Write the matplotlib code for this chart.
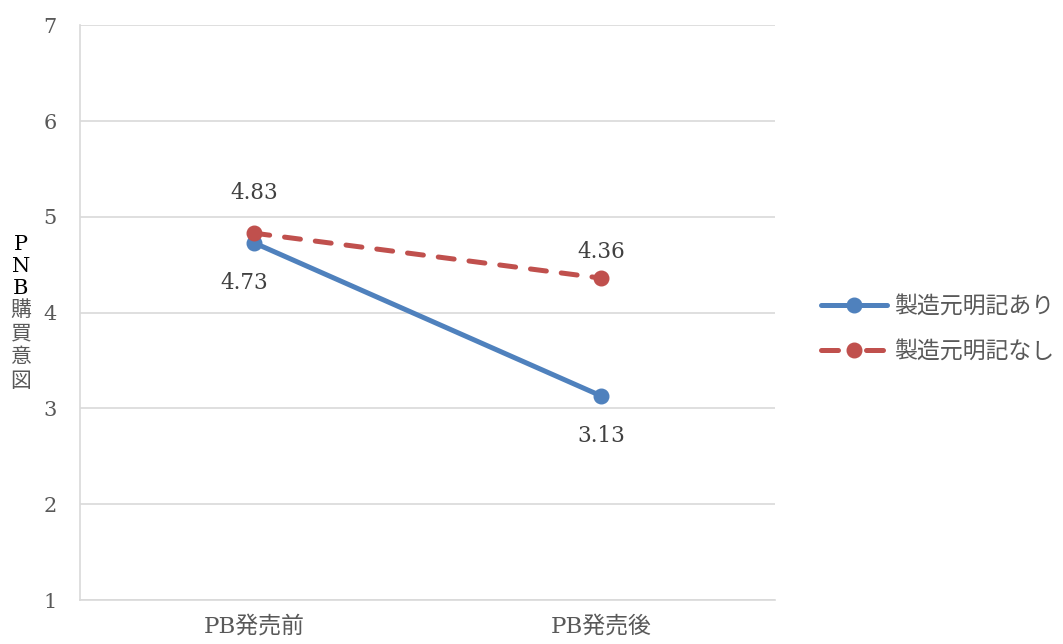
import matplotlib
matplotlib.use("Agg")
import matplotlib.pyplot as plt
from matplotlib.lines import Line2D

# データ
categories = ["PB発売前", "PB発売後"]
series_names = ["製造元明記あり", "製造元明記なし"]
with_maker = [4.73, 3.13]
without_maker = [4.83, 4.36]

BLUE = "#4f81bd"
RED = "#c0504d"
TEXT = "#595959"
GRID = "#d9d9d9"

FONT = ["DejaVu Serif", "Noto Sans CJK JP", "DejaVu Sans"]
plt.rcParams["font.family"] = FONT

fig = plt.figure(figsize=(10.63, 6.44), dpi=100)
ax = fig.add_axes([0.0753, 0.0683, 0.6538, 0.8925])

x = list(range(len(categories)))
ax.plot(x, with_maker, color=BLUE, lw=3.6, marker="o", ms=10.5,
        solid_capstyle="round", zorder=3)
ax.plot(x, without_maker, color=RED, lw=3.6, marker="o", ms=10.5,
        linestyle=(0, (3.2, 3.0)), dash_capstyle="round", zorder=4)

# データラベル
label_off_blue = [(-10, -40), (0, -40)]
label_off_red = [(0, 40), (0, 26)]
for xi, v, off in zip(x, with_maker, label_off_blue):
    ax.annotate(f"{v:.2f}", (xi, v), xytext=off, textcoords="offset pixels",
                ha="center", va="center", fontsize=15.5, color="#404040")
for xi, v, off in zip(x, without_maker, label_off_red):
    ax.annotate(f"{v:.2f}", (xi, v), xytext=off, textcoords="offset pixels",
                ha="center", va="center", fontsize=15.5, color="#404040")

ax.set_xlim(-0.5, 1.5)
ax.set_ylim(1, 7)
ax.set_yticks(range(1, 8))
ax.set_xticks(x)
ax.set_xticklabels(categories)
ax.tick_params(length=0, labelsize=15, labelcolor=TEXT)
ax.tick_params(axis="x", labelsize=16.5, pad=11)
ax.tick_params(axis="y", pad=17)
ax.grid(axis="y", color=GRID, lw=1.2)
ax.set_axisbelow(True)
for s in ["top", "right"]:
    ax.spines[s].set_visible(False)
for s in ["left", "bottom"]:
    ax.spines[s].set_color(GRID)
    ax.spines[s].set_linewidth(1.2)

# 縦書きのY軸ラベル
ylabel_chars = ["P", "N", "B", "購", "買", "意", "図"]
ylabel_y = [245, 267, 288, 310, 334, 358, 382]
for i, (ch, yy) in enumerate(zip(ylabel_chars, ylabel_y)):
    color = "#000000" if i < 3 else TEXT
    fig.text(21 / 1063, 1 - yy / 644, ch, ha="center", va="center",
             fontsize=15, color=color, family=FONT)

# 凡例（破線は ▬ ● ▬ に見えるよう専用のハンドル）
handles = [
    Line2D([], [], color=BLUE, lw=3.6, marker="o", ms=10.5, solid_capstyle="round"),
    Line2D([], [], color=RED, lw=3.6, marker="o", ms=10.5,
           linestyle=(0, (3.4, 5.6)), dash_capstyle="round"),
]
leg = ax.legend(handles, series_names, loc="center left",
                bbox_to_anchor=(1.036, 0.471), frameon=False,
                fontsize=16.5, handlelength=2.9, labelspacing=1.0, handletextpad=0.3)
for t in leg.get_texts():
    t.set_color(TEXT)

fig.savefig("out.png", dpi=100)
